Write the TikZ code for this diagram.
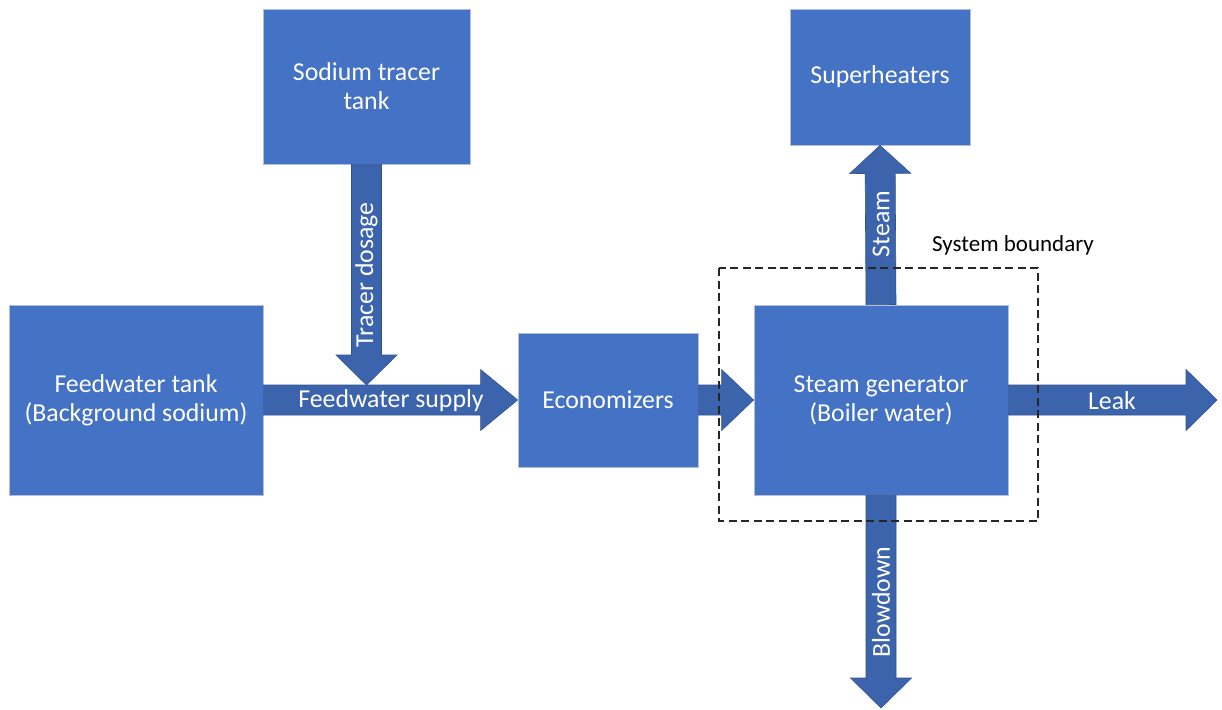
\documentclass[tikz,border=0pt]{standalone}
\usepackage{fontspec}
\setmainfont{Carlito}
\usetikzlibrary{calc}
\definecolor{boxfill}{HTML}{4472C4}
\definecolor{boxline}{HTML}{B4BFD6}
\definecolor{arrfill}{HTML}{3C64AC}
\definecolor{arrline}{HTML}{2F528F}
\tikzset{
  box/.style={fill=boxfill, draw=boxline, line width=0.8pt, text=white, align=center, inner sep=0pt,
    font=\fontsize{25.8}{29}\selectfont},
  arrowbody/.style={fill=arrfill, draw=arrline, line width=0.6pt},
  arrlabel/.style={text=white, font=\fontsize{25.8}{30}\selectfont, inner sep=0pt},
  boundary/.style={draw=black!85, dash pattern=on 8pt off 4.5pt, line width=1.1pt},
}
% block arrow from #2 to #3, head length #1
\newcommand\barrow[3][31pt]{%
  \path[arrowbody] let \p1=(#2), \p2=(#3), \n1={atan2(\y2-\y1,\x2-\x1)} in
    ($(\p1)+(\n1+90:15pt)$) -- ($(\p2)!#1!(\p1)+(\n1+90:15pt)$) --
    ($(\p2)!#1!(\p1)+(\n1+90:30.5pt)$) -- (\p2) --
    ($(\p2)!#1!(\p1)+(\n1-90:30.5pt)$) -- ($(\p2)!#1!(\p1)+(\n1-90:15pt)$) --
    ($(\p1)+(\n1-90:15pt)$) -- cycle;}
\begin{document}
\begin{tikzpicture}[x=1pt,y=-1pt]
\useasboundingbox (0,0) rectangle (1222,709);
% boxes
\node[box, minimum width=207pt, minimum height=155pt] (tracer) at (366.5,86.5) {Sodium tracer\\tank};
\node[box, minimum width=254pt, minimum height=190pt] (feed) at (136,400) {Feedwater tank\\(Background sodium)};
\node[box, minimum width=180pt, minimum height=134pt] (econ) at (608,400) {Economizers};
\node[box, minimum width=254pt, minimum height=190pt] (sg) at (881,400) {Steam generator\\(Boiler water)};
\node[box, minimum width=180pt, minimum height=136pt] (sup) at (880,77) {Superheaters};
% free ends
\coordinate (joint) at (366.5,385);
\coordinate (bdend) at (881,708);
\coordinate (leakend) at (1217,400);
% arrows
\barrow[30pt]{tracer.south}{joint}
\barrow[37pt]{feed.east}{econ.west}
\barrow[32pt]{econ.east}{sg.west}
\barrow[28pt]{sg.north}{sup.south}
\barrow[30pt]{sg.south}{bdend}
\barrow[31pt]{sg.east}{leakend}
% labels
\node[arrlabel, rotate=90] (lbltracer) at (366.5,275) {Tracer dosage};
\node[arrlabel] (lblfeed) at (391,401) {Feedwater supply};
\node[arrlabel, rotate=90] (lblsteam) at (881,224) {Steam};
\node[arrlabel, rotate=90] (lblblow) at (881,602) {Blowdown};
\node[arrlabel] (lblleak) at (1112,401) {Leak};
% system boundary
\draw[boundary] (719,268) rectangle (1038,521);
\node[font=\fontsize{23}{27}\selectfont, inner sep=0pt] (sysb) at (1013,245) {System boundary};
\end{tikzpicture}
\end{document}
